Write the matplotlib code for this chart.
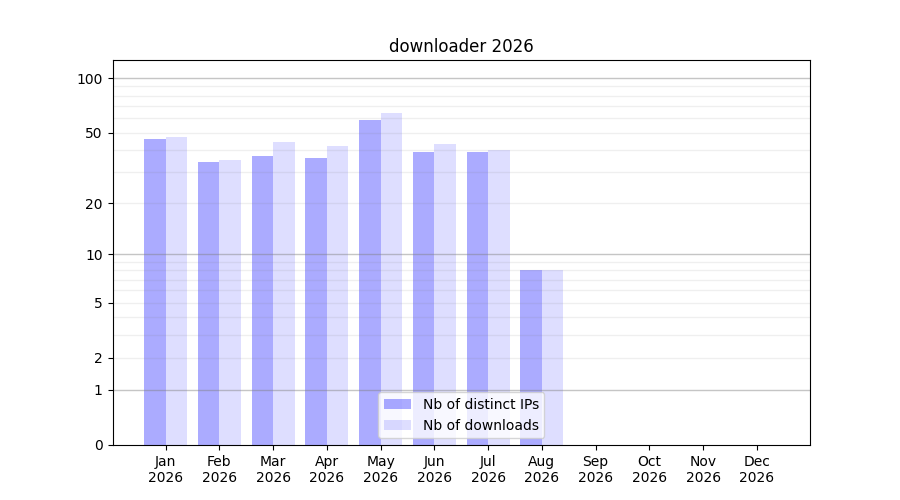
import numpy as np
import matplotlib
matplotlib.use('Agg')
import matplotlib.pyplot as plt

months = ['Jan', 'Feb', 'Mar', 'Apr', 'May', 'Jun', 'Jul', 'Aug', 'Sep', 'Oct', 'Nov', 'Dec']
year = 2026
distinct_ips = [46, 34, 37, 36, 59, 39, 39, 8, 0, 0, 0, 0]
downloads = [47, 35, 44, 42, 64, 43, 40, 8, 0, 0, 0, 0]
yticks = [0, 1, 2, 5, 10, 20, 50, 100]


def forward(v):
    return np.log10(1 + np.maximum(v, 0))


def inverse(v):
    return 10 ** v - 1


def plot_data():
    fig, ax = plt.subplots(figsize=(9, 5), dpi=100)
    x = np.arange(len(months))
    ax.bar(x - 0.2, distinct_ips, width=0.4, color='blue', alpha=0.33, label='Nb of distinct IPs')
    ax.bar(x + 0.2, downloads, width=0.4, color='blue', alpha=0.13, label='Nb of downloads')

    ax.set_yscale('function', functions=(forward, inverse))
    ax.set_ylim(0, 2 * max(max(distinct_ips), max(downloads)) - 2)

    # grid lines: decades darker, in-between lighter
    for dec in [1, 10, 100]:
        ax.axhline(dec, color='grey', alpha=0.45, lw=1, zorder=1.5)
        for k in range(2, 10):
            ax.axhline(dec * k, color='grey', alpha=0.12, lw=1, zorder=1.5)

    ax.set_yticks(yticks)
    ax.set_yticklabels([str(t) for t in yticks])
    ax.set_xticks(x)
    ax.set_xticklabels([f'{m}\n{year}' for m in months])
    ax.set_title(f'downloader {year}')
    ax.legend(loc='lower center')
    fig.savefig('out.png')


if __name__ == '__main__':
    plot_data()
